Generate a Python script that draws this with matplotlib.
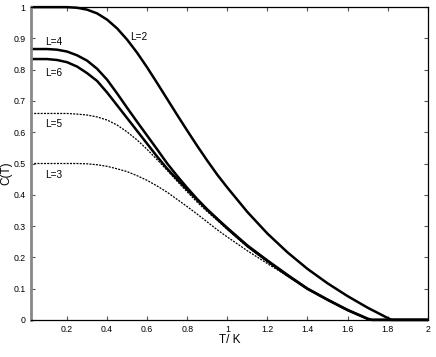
import matplotlib
matplotlib.use("Agg")
import matplotlib.pyplot as plt

plt.rcParams['font.family'] = ['Liberation Sans', 'DejaVu Sans']

# Temperature grid shared by the L=3..6 curves
T = [0.02, 0.1, 0.15, 0.2, 0.25, 0.3, 0.35, 0.4, 0.45, 0.5, 0.55, 0.6, 0.65,
     0.7, 0.75, 0.8, 0.85, 0.9, 0.95, 1.0, 1.1, 1.2, 1.3, 1.4, 1.5, 1.6, 1.7,
     1.72, 2.0]

C_L4 = [0.866, 0.866, 0.864, 0.858, 0.846, 0.829, 0.803, 0.768, 0.724, 0.678,
        0.633, 0.589, 0.545, 0.500, 0.460, 0.422, 0.386, 0.353, 0.323, 0.294,
        0.238, 0.190, 0.144, 0.100, 0.065, 0.032, 0.004, 0.0, 0.0]
C_L6 = [0.834, 0.834, 0.831, 0.824, 0.810, 0.789, 0.764, 0.727, 0.686, 0.645,
        0.604, 0.563, 0.522, 0.483, 0.449, 0.416, 0.384, 0.352, 0.322, 0.292,
        0.236, 0.188, 0.142, 0.099, 0.064, 0.031, 0.003, 0.0, 0.0]
C_L5 = [0.660, 0.660, 0.660, 0.660, 0.658, 0.655, 0.649, 0.639, 0.623, 0.601,
        0.575, 0.545, 0.512, 0.478, 0.443, 0.409, 0.376, 0.346, 0.318, 0.289,
        0.234, 0.186, 0.141, 0.099, 0.064, 0.031, 0.003, 0.0, 0.0]
C_L3 = [0.500, 0.500, 0.500, 0.500, 0.500, 0.499, 0.496, 0.491, 0.483, 0.474,
        0.461, 0.446, 0.428, 0.408, 0.385, 0.362, 0.338, 0.313, 0.288, 0.265,
        0.221, 0.180, 0.140, 0.100, 0.064, 0.031, 0.003, 0.0, 0.0]

# L=2 has its own grid (vanishes later)
T_L2 = [0.02, 0.2, 0.25, 0.3, 0.35, 0.4, 0.45, 0.5, 0.55, 0.6, 0.65, 0.7, 0.75,
        0.8, 0.85, 0.9, 0.95, 1.0, 1.1, 1.2, 1.3, 1.4, 1.5, 1.6, 1.7, 1.8,
        1.82, 2.0]
C_L2 = [1.0, 1.0, 0.998, 0.992, 0.980, 0.960, 0.932, 0.896, 0.854, 0.807,
        0.757, 0.706, 0.655, 0.605, 0.556, 0.509, 0.464, 0.423, 0.345, 0.276,
        0.216, 0.163, 0.117, 0.076, 0.039, 0.006, 0.0, 0.0]

x_ticks = [0.2, 0.4, 0.6, 0.8, 1.0, 1.2, 1.4, 1.6, 1.8, 2.0]
x_labels = ["0.2", "0.4", "0.6", "0.8", "1", "1.2", "1.4", "1.6", "1.8", "2"]
y_ticks = [0, 0.1, 0.2, 0.3, 0.4, 0.5, 0.6, 0.7, 0.8, 0.9, 1.0]
y_labels = ["0", "0.1", "0.2", "0.3", "0.4", "0.5", "0.6", "0.7", "0.8", "0.9", "1"]

fig = plt.figure(figsize=(4.36, 3.57), dpi=100)
ax = fig.add_axes([0.071, 0.104, 0.910, 0.876])

solid = dict(color="black", lw=1.8, solid_capstyle="butt", clip_on=False)
dashed = dict(color="black", lw=0.9, linestyle=(0, (1.6, 1.0)), clip_on=False)

ax.plot(T_L2, C_L2, **solid)
ax.plot(T, C_L4, **solid)
ax.plot(T, C_L6, **solid)
ax.plot(T, C_L5, **dashed)
ax.plot(T, C_L3, **dashed)

lab = dict(fontsize=7.2, ha="left", va="center")
ax.text(0.515, 0.904, "L=2", **lab)
ax.text(0.091, 0.887, "L=4", **lab)
ax.text(0.091, 0.789, "L=6", **lab)
ax.text(0.091, 0.625, "L=5", **lab)
ax.text(0.091, 0.462, "L=3", **lab)

ax.set_xlim(0.02, 2.0)
ax.set_ylim(0, 1)
ax.set_xticks(x_ticks)
ax.set_xticklabels(x_labels)
ax.set_yticks(y_ticks)
ax.set_yticklabels(y_labels)
ax.tick_params(direction="in", length=3, width=0.8, labelsize=6.3,
               top=True, right=True, pad=4, color="#555555")

ax.set_xlabel("T/ K", fontsize=8.5)
ax.xaxis.set_label_coords(0.5, -0.045)
ax.set_ylabel("C(T)", fontsize=8.5)
ax.yaxis.set_label_coords(-0.046, 0.47)

for side in ["top", "right", "bottom"]:
    ax.spines[side].set_linewidth(0.9)
ax.spines["left"].set_linewidth(2.0)
ax.spines["left"].set_color("#888888")

fig.savefig("out.png", dpi=100)
